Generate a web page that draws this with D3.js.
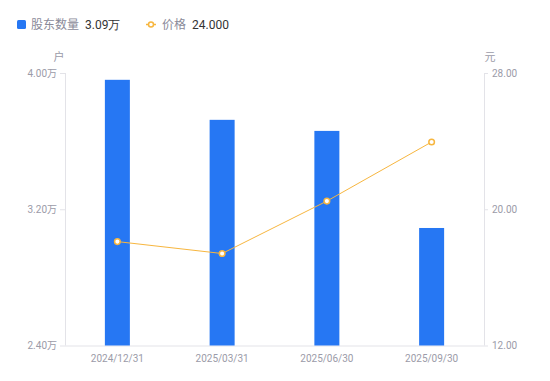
<!DOCTYPE html>
<html><head><meta charset="utf-8">
<script src="https://cdn.jsdelivr.net/npm/d3@7"></script>
<style>body{margin:0;background:#fff;}svg{display:block;font-family:"Noto Sans CJK SC","Noto Sans",sans-serif;}</style>
</head><body><svg id="c" width="550" height="381"></svg>
<script>
const categories = ["2024/12/31","2025/03/31","2025/06/30","2025/09/30"];
const holders = [3.96, 3.725, 3.66, 3.09];
const prices = [18.10, 17.40, 20.48, 23.95];
const leftTicks = [2.40, 3.20, 4.00];
const rightTicks = [12, 20, 28];

const svg = d3.select("#c");
const L = 65, R = 484, T = 73, B = 345.5;
const x = d3.scaleBand().domain(categories).range([L, R]);
const yL = d3.scaleLinear().domain([2.4, 4.0]).range([B, T]);
const yR = d3.scaleLinear().domain([12, 28]).range([B, T]);
const axisColor = "#e3e3e8", textColor = "#9b9ba8";

// axes
const gl = svg.append("g").attr("transform", `translate(${L},0)`)
  .call(d3.axisLeft(yL).tickValues(leftTicks).tickSize(5).tickPadding(3).tickFormat(d => d.toFixed(2) + "万"));
const gr = svg.append("g").attr("transform", `translate(${R},0)`)
  .call(d3.axisRight(yR).tickValues(rightTicks).tickSize(4).tickPadding(4).tickFormat(d => d.toFixed(2)));
const gb = svg.append("g").attr("transform", `translate(0,${B})`)
  .call(d3.axisBottom(x).tickSize(0).tickPadding(9));
[gl, gr, gb].forEach(g => {
  g.select(".domain").attr("stroke", axisColor);
  g.selectAll(".tick line").attr("stroke", axisColor);
  g.selectAll("text").attr("fill", textColor).style("font-size", "10px").style("font-family", "Roboto,'Noto Sans CJK SC',sans-serif");
});
gb.select(".domain").attr("d", `M${L},0.5H${R}`);
gl.select(".domain").attr("d", "M0.5," + T + "V" + B);
gr.select(".domain").attr("d", "M0.5," + T + "V" + B);

svg.append("text").attr("x", 59).attr("y", 61).attr("text-anchor", "middle").attr("fill", textColor).style("font-size", "11px").text("户");
svg.append("text").attr("x", 490).attr("y", 61).attr("text-anchor", "middle").attr("fill", textColor).style("font-size", "11px").text("元");

// bars
const bw = 25;
svg.append("g").selectAll("rect").data(categories).join("rect")
  .attr("x", d => x(d) + x.bandwidth()/2 - bw/2)
  .attr("width", bw)
  .attr("y", (d,i) => yL(holders[i]))
  .attr("height", (d,i) => B - yL(holders[i]))
  .attr("fill", "#2677f3");

// line
const orange = "#f7b63f";
const line = d3.line().x((d,i) => x(categories[i]) + x.bandwidth()/2).y(d => yR(d));
svg.append("path").datum(prices).attr("d", line).attr("fill", "none").attr("stroke", orange).attr("stroke-width", 1);
svg.append("g").selectAll("circle").data(prices).join("circle")
  .attr("cx", (d,i) => x(categories[i]) + x.bandwidth()/2)
  .attr("cy", d => yR(d)).attr("r", 2.8)
  .attr("fill", "#fff").attr("stroke", orange).attr("stroke-width", 1.5);

// legend
const lg = svg.append("g").style("font-size", "12px");
lg.append("rect").attr("x", 17).attr("y", 20).attr("width", 9).attr("height", 9).attr("rx", 1.5).attr("fill", "#2677f3");
lg.append("text").attr("x", 31).attr("y", 29).attr("fill", "#8a8a99").text("股东数量");
lg.append("text").attr("x", 85).attr("y", 29).attr("fill", "#333").style("font-family","Roboto,sans-serif").text("3.09万");
lg.append("line").attr("x1", 146).attr("x2", 156).attr("y1", 24.5).attr("y2", 24.5).attr("stroke", orange).attr("stroke-width", 1.5);
lg.append("circle").attr("cx", 151).attr("cy", 24.5).attr("r", 2.5).attr("fill", "#fff").attr("stroke", orange).attr("stroke-width", 1.5);
lg.append("text").attr("x", 162).attr("y", 29).attr("fill", "#8a8a99").text("价格");
lg.append("text").attr("x", 192).attr("y", 29).attr("fill", "#333").style("font-family","Roboto,sans-serif").text("24.000");
</script></body></html>
